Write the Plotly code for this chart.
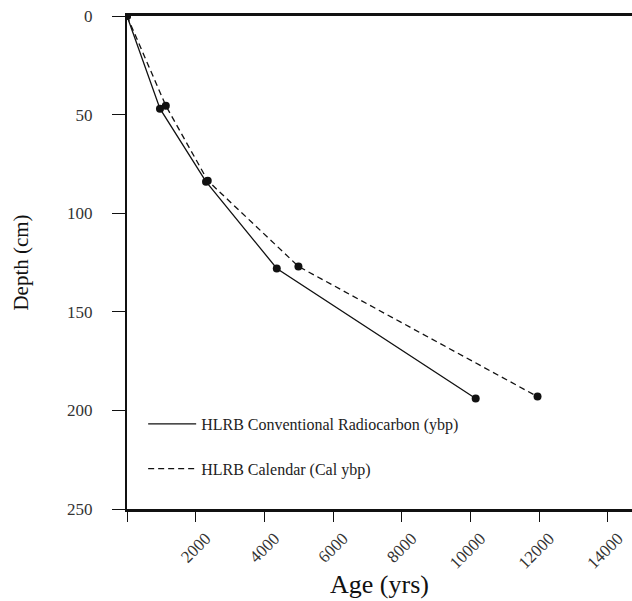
import plotly.graph_objects as go

# Data
radio_age = [0, 960, 2300, 4360, 10150]
radio_depth = [0, 47, 84, 128, 194]
cal_age = [0, 1130, 2350, 4990, 11950]
cal_depth = [0, 45.5, 83.5, 127, 193]

x_ticks = [0, 2000, 4000, 6000, 8000, 10000, 12000, 14000]
x_ticktext = ["", "2000", "4000", "6000", "8000", "10000", "12000", "14000"]
y_ticks = [0, 50, 100, 150, 200, 250]

FONT = "Liberation Serif"
INK = "#111111"

fig = go.Figure()
# lines (legend entries)
fig.add_trace(go.Scatter(
    x=radio_age, y=radio_depth, mode="lines",
    name="HLRB Conventional Radiocarbon (ybp)", legendgroup="a",
    line=dict(color=INK, width=1.3)))
fig.add_trace(go.Scatter(
    x=cal_age, y=cal_depth, mode="lines",
    name="HLRB Calendar (Cal ybp)", legendgroup="b",
    line=dict(color=INK, width=1.3, dash="6px,4px")))
# markers
fig.add_trace(go.Scatter(
    x=radio_age, y=radio_depth, mode="markers", showlegend=False,
    marker=dict(color=INK, size=8)))
fig.add_trace(go.Scatter(
    x=cal_age, y=cal_depth, mode="markers", showlegend=False,
    marker=dict(color=INK, size=8)))

fig.update_layout(
    width=632, height=601,
    margin=dict(l=127, r=0, t=16, b=92),
    paper_bgcolor="white", plot_bgcolor="white",
    font=dict(family=FONT, color=INK, size=17),
    showlegend=True,
    legend=dict(
        x=0.032, y=0.207, xanchor="left", yanchor="top",
        bgcolor="rgba(0,0,0,0)", font=dict(family=FONT, size=16, color="#222"),
        traceorder="grouped", tracegroupgap=21, itemwidth=48,
    ),
    xaxis=dict(
        range=[0, 14700], tickvals=x_ticks, ticktext=x_ticktext,
        tickangle=-45, ticks="outside", ticklen=10, tickwidth=1.3, tickcolor=INK,
        showline=True, linecolor=INK, linewidth=2.5, mirror=True,
        showgrid=False, zeroline=False, ticklabelshift=10,
        tickfont=dict(family=FONT, size=17, color="#333"),
        title=dict(text="Age (yrs)", font=dict(family=FONT, size=26, color=INK), standoff=4),
    ),
    yaxis=dict(
        range=[250, 0], tickvals=y_ticks,
        ticks="outside", ticklen=13, tickwidth=1.3, tickcolor=INK,
        showline=True, linecolor=INK, linewidth=2.2,
        showgrid=False, zeroline=False, ticklabelstandoff=16,
        tickfont=dict(family=FONT, size=17, color="#333"),
        title=dict(text="Depth (cm)", font=dict(family=FONT, size=21, color=INK), standoff=33),
    ),
)

fig.write_html("out.html")
